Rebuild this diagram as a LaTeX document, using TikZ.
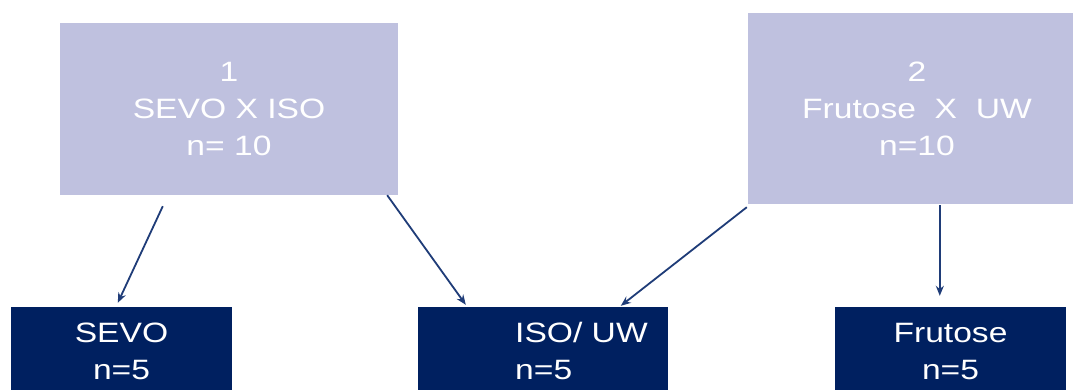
\documentclass[tikz,border=0pt]{standalone}
\usepackage{fontspec}
\usepackage{graphicx}
\setmainfont{Liberation Sans}
\usetikzlibrary{arrows.meta}
\definecolor{lightbox}{HTML}{BFC1DF}
\definecolor{darkbox}{HTML}{002060}
\definecolor{arrowc}{HTML}{1F3C78}
\newcommand{\widetxt}[1]{\scalebox{1.2}[1]{#1}}
\tikzset{
  topbox/.style={fill=lightbox, draw=none, inner sep=0pt, text=white, align=center,
    font=\fontsize{28}{37}\selectfont},
  botbox/.style={fill=darkbox, draw=none, inner sep=0pt, text=white, align=center,
    font=\fontsize{28}{37}\selectfont},
  txt/.style={inner sep=0pt, text=white, align=left, font=\fontsize{28}{37}\selectfont},
  conn/.style={draw=arrowc, line width=1.8pt, -{Stealth[length=10pt,width=8pt]}}
}
\begin{document}
\begin{tikzpicture}[x=1pt,y=-1pt]
\useasboundingbox (0,0) rectangle (1073,389);
\clip (0,0) rectangle (1073,389);
\fill[white] (0,0) rectangle (1073,389);
\node[topbox, minimum width=338pt, minimum height=172pt] (b1) at (229,109)
  {\widetxt{1}\\\widetxt{SEVO X ISO}\\\widetxt{n= 10}};
\node[topbox, minimum width=338pt, minimum height=191pt] (b2) at (917,108.5)
  {\widetxt{2}\\\widetxt{Frutose\ \ X\ \ UW}\\\widetxt{n=10}};
\node[botbox, minimum width=221pt, minimum height=88pt] (sevo) at (121.5,351)
  {\widetxt{SEVO}\\\widetxt{n=5}};
\node[botbox, minimum width=250pt, minimum height=88pt] (iso) at (543,351) {};
\node[txt, anchor=west] (isot) at (515,351) {\widetxt{ISO/ UW}\\\widetxt{n=5}};
\node[botbox, minimum width=231pt, minimum height=88pt] (fru) at (950.5,351)
  {\widetxt{Frutose}\\\widetxt{n=5}};
\draw[conn] ([shift={(103,11)}]b1.south west) -- ([shift={(107,-4)}]sevo.north west);
\draw[conn] ([shift={(-11,0)}]b1.south east) -- ([shift={(48,-2)}]iso.north west);
\draw[conn] ([shift={(-1,3)}]b2.south west) -- ([shift={(203,-1)}]iso.north west);
\draw[conn] ([shift={(192,1)}]b2.south west) -- ([shift={(105,-11)}]fru.north west);
\end{tikzpicture}
\end{document}
